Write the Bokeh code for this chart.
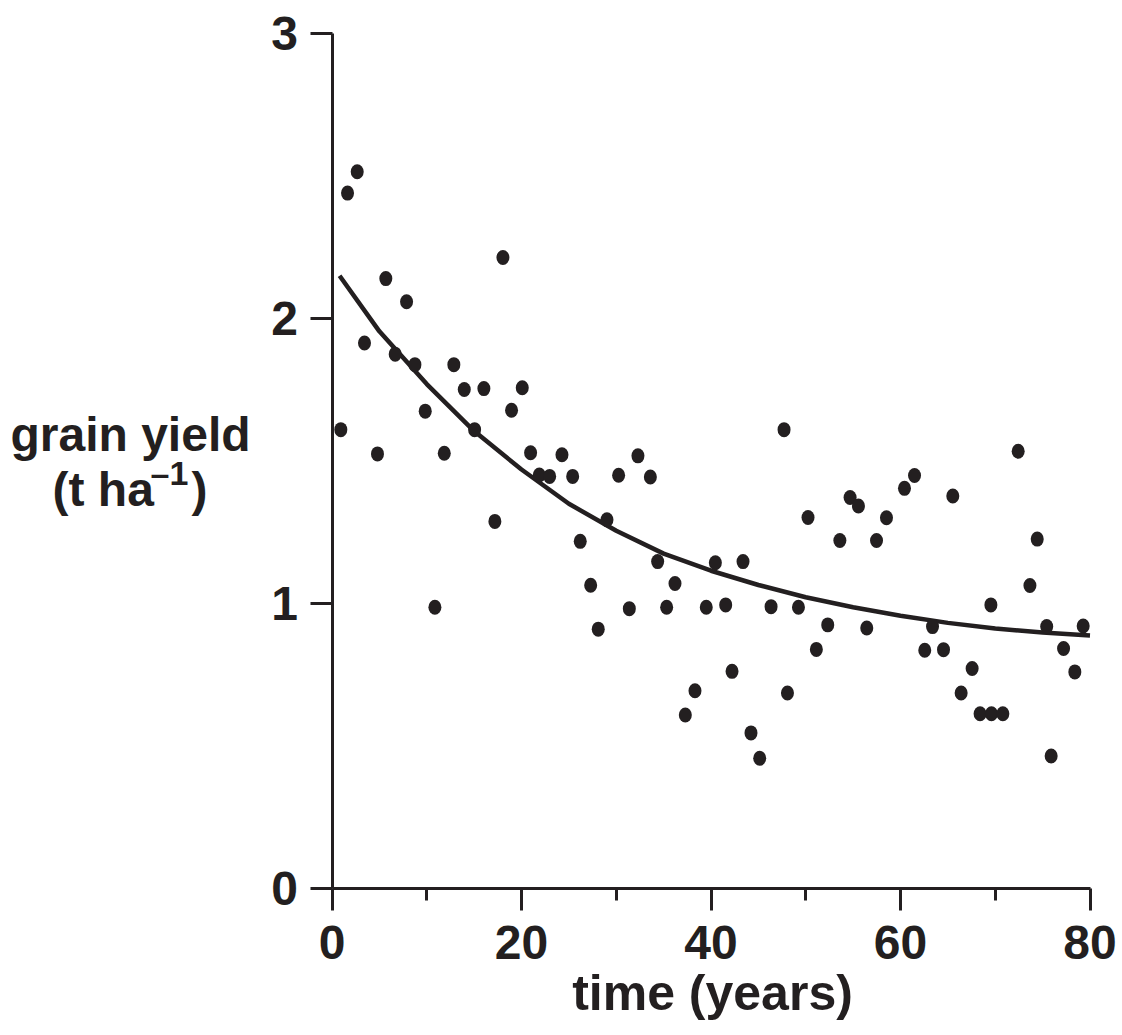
from bokeh.plotting import figure
from bokeh.models import Range1d, FixedTicker, Label
from bokeh.embed import file_html
from bokeh.resources import INLINE

# ---- data ----
years = [0.93, 1.64, 2.66, 3.43, 4.80, 5.68, 6.67, 7.87, 8.75, 9.84,
         10.86, 11.85, 12.86, 13.96, 15.05, 16.03, 17.19, 18.04, 18.95, 20.08,
         20.96, 21.88, 22.97, 24.27, 25.40, 26.20, 27.30, 28.10, 29.02, 30.25,
         31.38, 32.29, 33.60, 34.37, 35.32, 36.20, 37.29, 38.31, 39.50, 40.46,
         41.55, 42.22, 43.38, 44.22, 45.14, 46.34, 47.71, 48.07, 49.23, 50.24,
         51.12, 52.32, 53.60, 54.68, 55.56, 56.44, 57.47, 58.52, 60.42, 61.48,
         62.56, 63.38, 64.54, 65.52, 66.40, 67.56, 68.40, 69.54, 69.60, 70.80,
         72.42, 73.66, 74.43, 75.43, 75.90, 77.21, 78.40, 79.28]
grain_yield = [1.610, 2.440, 2.515, 1.914, 1.525, 2.140, 1.875, 2.059, 1.838, 1.675,
               0.987, 1.527, 1.838, 1.751, 1.610, 1.754, 1.288, 2.214, 1.678, 1.757,
               1.529, 1.451, 1.446, 1.522, 1.446, 1.218, 1.064, 0.910, 1.294, 1.450,
               0.982, 1.518, 1.444, 1.147, 0.987, 1.070, 0.609, 0.694, 0.987, 1.143,
               0.995, 0.762, 1.147, 0.546, 0.457, 0.989, 1.610, 0.686, 0.987, 1.302,
               0.839, 0.925, 1.221, 1.372, 1.342, 0.914, 1.221, 1.301, 1.404, 1.449,
               0.836, 0.919, 0.838, 1.377, 0.686, 0.772, 0.613, 0.995, 0.613, 0.613,
               1.534, 1.063, 1.226, 0.919, 0.465, 0.842, 0.760, 0.921]

fit_years = [0.8, 5, 10, 15, 20, 25, 30, 35, 40, 45, 50, 55, 60, 65, 70, 75, 80]
fit_yield = [2.150, 1.955, 1.770, 1.605, 1.470, 1.350, 1.255, 1.175, 1.115,
             1.065, 1.022, 0.987, 0.957, 0.932, 0.912, 0.898, 0.888]

x_major_ticks = [0, 20, 40, 60, 80]
x_minor_ticks = [10, 30, 50, 70]
y_major_ticks = [0, 1, 2, 3]

x_label = "time (years)"
y_label_1 = "grain yield"
y_label_2a = "(t ha"
y_label_2sup = "\u20131"
y_label_2b = ")"

INK = "#231f20"
FONT = "Liberation Sans"

# ---- layout: canvas pixels <-> data ----
W, H = 1120, 1033
X0_PX, X_SCALE = 331.5, 9.475     # px of x=0, px per year
Y0_PX, Y_SCALE = 888.0, 285.0     # px of y=0, px per t/ha


def dx(px):
    return (px - X0_PX) / X_SCALE


def dy(py):
    return (Y0_PX - py) / Y_SCALE


p = figure(width=W, height=H, output_backend="svg", toolbar_location=None,
           x_range=Range1d(dx(0), dx(W)), y_range=Range1d(dy(H), dy(0)),
           min_border=0)
p.outline_line_color = None
p.grid.visible = False

p.line(fit_years, fit_yield, line_width=4.5, line_color=INK)
p.ellipse(x=years, y=grain_yield, width=13, height=15,
          width_units="screen", height_units="screen",
          fill_color=INK, line_color=None)

p.xaxis.ticker = FixedTicker(ticks=x_major_ticks, minor_ticks=x_minor_ticks)
p.yaxis.ticker = FixedTicker(ticks=y_major_ticks, minor_ticks=[])
p.xaxis.fixed_location = 0
p.yaxis.fixed_location = 0
p.xaxis.bounds = (x_major_ticks[0], x_major_ticks[-1])
p.yaxis.bounds = (y_major_ticks[0], y_major_ticks[-1])
for ax in (p.xaxis, p.yaxis):
    ax.axis_line_width = 3
    ax.axis_line_color = INK
    ax.major_tick_line_width = 3
    ax.major_tick_line_color = INK
    ax.minor_tick_line_width = 3
    ax.minor_tick_line_color = INK
    ax.major_tick_in = 0
    ax.major_tick_out = 22
    ax.minor_tick_in = 0
    ax.major_label_text_font = FONT
    ax.major_label_text_font_style = "bold"
    ax.major_label_text_font_size = "48px"
    ax.major_label_text_color = INK
p.xaxis.minor_tick_out = 12
p.yaxis.minor_tick_out = 0
p.xaxis.major_label_standoff = 15
p.yaxis.major_label_standoff = 12

common = dict(x_units="data", y_units="data", text_font=FONT,
              text_font_style="bold", text_color=INK, text_baseline="alphabetic")

p.add_layout(Label(x=dx(712), y=dy(992), text=x_label, text_align="center",
                   text_font_size="50px", **common))
p.add_layout(Label(x=dx(130), y=dy(434), text=y_label_1, text_align="center",
                   text_font_size="48px", **common))
p.add_layout(Label(x=dx(52), y=dy(489), text=y_label_2a, text_align="left",
                   text_font_size="48px", **common))
p.add_layout(Label(x=dx(150), y=dy(472), text=y_label_2sup, text_align="left",
                   text_font_size="34px", **common))
p.add_layout(Label(x=dx(191), y=dy(489), text=y_label_2b, text_align="left",
                   text_font_size="48px", **common))

open("out.html", "w").write(file_html(p, INLINE))
